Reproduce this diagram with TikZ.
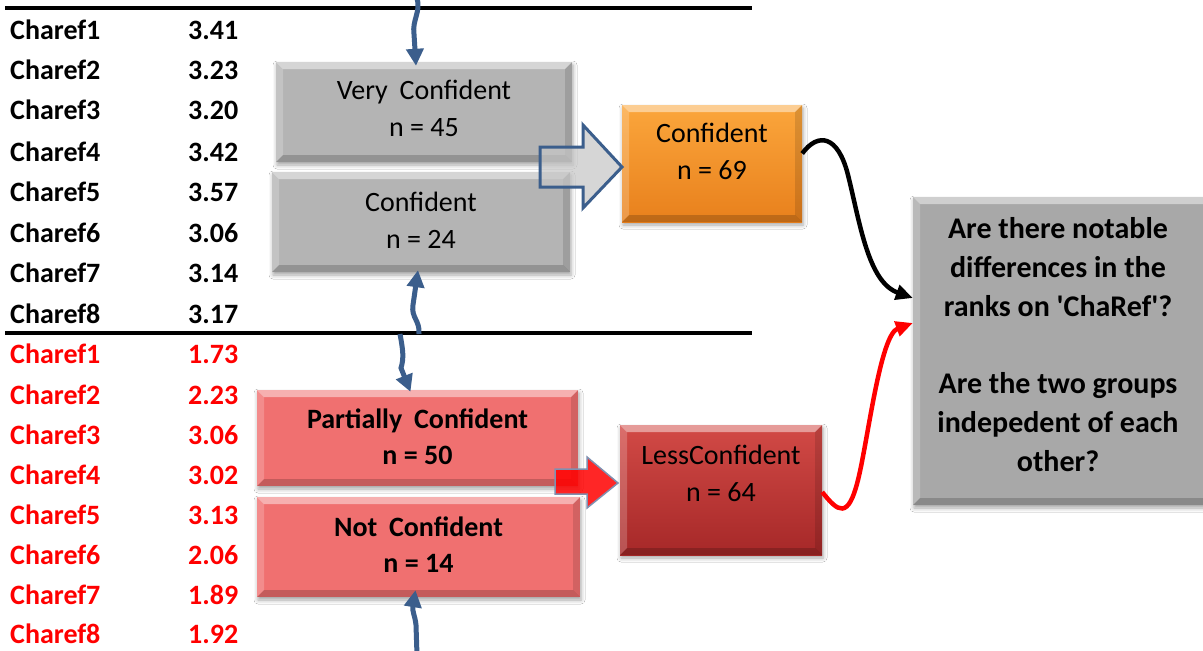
\documentclass[tikz,border=0pt]{standalone}
\usepackage{fontspec}
\setmainfont{Carlito}
\usetikzlibrary{arrows.meta,shadows.blur}

\definecolor{flowblue}{RGB}{59,94,140}
\definecolor{boxgray}{RGB}{180,180,180}
\definecolor{qgray}{RGB}{168,168,168}
\definecolor{boxpink}{RGB}{240,112,112}
\definecolor{orangetop}{RGB}{251,166,60}
\definecolor{orangebot}{RGB}{232,128,28}
\definecolor{darkredtop}{RGB}{210,74,70}
\definecolor{darkredbot}{RGB}{166,40,40}
\definecolor{arrowedge}{RGB}{128,144,176}
\definecolor{lowred}{RGB}{255,0,0}

\newcommand\wsp{\hspace{0.42em}}

\tikzset{
  x=1pt, y=-1pt,
  bevel/.style={path picture={
    \fill[white,opacity=.45] (path picture bounding box.north west) -- (path picture bounding box.north east)
      -- ([xshift=-7pt,yshift=-7pt]path picture bounding box.north east)
      -- ([xshift=7pt,yshift=-7pt]path picture bounding box.north west) -- cycle;
    \fill[white,opacity=.2] (path picture bounding box.north west) -- (path picture bounding box.south west)
      -- ([xshift=7pt,yshift=7pt]path picture bounding box.south west)
      -- ([xshift=7pt,yshift=-7pt]path picture bounding box.north west) -- cycle;
    \fill[black,opacity=.12] (path picture bounding box.north east) -- (path picture bounding box.south east)
      -- ([xshift=-7pt,yshift=7pt]path picture bounding box.south east)
      -- ([xshift=-7pt,yshift=-7pt]path picture bounding box.north east) -- cycle;
    \fill[black,opacity=.18] (path picture bounding box.south west) -- (path picture bounding box.south east)
      -- ([xshift=-7pt,yshift=7pt]path picture bounding box.south east)
      -- ([xshift=7pt,yshift=7pt]path picture bounding box.south west) -- cycle;
  }},
  panel/.style={draw=none, inner sep=0pt, bevel,
    blur shadow={shadow xshift=1pt, shadow yshift=-3pt, shadow blur radius=4pt, shadow opacity=35}},
  graypanel/.style={panel, fill=boxgray},
  pinkpanel/.style={panel, fill=boxpink},
  orangepanel/.style={panel, top color=orangetop, bottom color=orangebot},
  redpanel/.style={panel, top color=darkredtop, bottom color=darkredbot},
  qpanel/.style={panel, fill=qgray},
  boxtext/.style={align=center, inner sep=0pt, font=\fontsize{28}{37}\selectfont},
  boldtext/.style={boxtext, font=\fontsize{28}{36}\selectfont\bfseries},
  qtext/.style={align=center, inner sep=0pt, font=\fontsize{30}{38.7}\selectfont\bfseries},
  rowlabel/.style={anchor=west, inner sep=0pt, font=\fontsize{28}{30}\selectfont\bfseries},
  flow/.style={draw=flowblue, line width=5pt, -{Triangle[length=17pt,width=17pt]}},
  link/.style={line width=4.5pt, -{Triangle[length=17pt,width=15pt]}},
  rulerline/.style={line width=3.5pt},
  bluearrow/.style={fill=gray!45, fill opacity=.7, draw=flowblue, line width=3pt, line join=miter},
  redarrow/.style={fill=red, fill opacity=.85, draw=arrowedge, line width=1.5pt, line join=miter},
}

\begin{document}
\begin{tikzpicture}
\useasboundingbox (0,0) rectangle (1203,651);
\fill[white] (0,0) rectangle (1203,651);

% section rules
\coordinate (rt1) at (5,8);   \coordinate (rt2) at (752,8);
\coordinate (rm1) at (5,333); \coordinate (rm2) at (752,333);
\draw[rulerline] (rt1) -- (rt2);
\draw[rulerline] (rm1) -- (rm2);

% confident group scores
\foreach \y/\v [count=\i] in {30/3.41,70/3.23,110/3.20,152/3.42,192/3.57,233/3.06,273/3.14,314/3.17} {
  \node[rowlabel] (hl\i) at (10,\y) {Charef\i};
  \node[rowlabel] (hv\i) at (188,\y) {\v};
}
% less confident group scores
\foreach \y/\v [count=\i] in {354/1.73,395/2.23,435/3.06,475/3.02,515/3.13,555/2.06,595/1.89,634/1.92} {
  \node[rowlabel,text=lowred] (ll\i) at (10,\y) {Charef\i};
  \node[rowlabel,text=lowred] (lv\i) at (188,\y) {\v};
}

% panels
\node[graypanel, minimum width=296, minimum height=100] (vc) at (424,112) {};
\node[graypanel, minimum width=298, minimum height=100] (c2) at (421,222) {};
\node[pinkpanel, minimum width=321, minimum height=96] (pc) at (417.5,438) {};
\node[pinkpanel, minimum width=323, minimum height=100] (nc) at (418.5,547) {};
\node[orangepanel, minimum width=180, minimum height=117] (cf) at (712,163.5) {};
\node[redpanel, minimum width=202, minimum height=130] (lc) at (721,490) {};
\node[qpanel, minimum width=297, minimum height=308] (q) at (1061.5,351) {};

% panel texts
\node[boxtext] (vct) at ([yshift=3.5pt]vc.center) {Very\wsp Confident\\n = 45};
\node[boxtext] (c2t) at ([yshift=1.5pt]c2.center) {Confident\\n = 24};
\node[boldtext] (pct) at ([yshift=1pt]pc.center) {Partially\wsp Confident\\n = 50};
\node[boldtext] (nct) at ([yshift=2pt]nc.center) {Not\wsp Confident\\n = 14};
\node[boxtext] (cft) at ([yshift=12pt]cf.center) {Confident\\n = 69};
\node[boxtext] (lct) at ([yshift=16.5pt]lc.center) {LessConfident\\n = 64};
\node[qtext] (qt) at ([xshift=-3.5pt,yshift=6.5pt]q.center)
  {Are there notable\\differences in the\\ranks on \textquotesingle ChaRef\textquotesingle ?\\[38.7pt]Are the two groups\\indepedent of each\\other?};

% merging block arrows
\draw[bluearrow] (540,147) -- (583,147) -- (583,125) -- (622,167) -- (583,208) -- (583,187) -- (540,187) -- cycle;
\draw[redarrow] (555,469) -- (587,469) -- (587,457) -- (618,483) -- (587,508) -- (587,494) -- (555,494) -- cycle;

% wavy feeders
\coordinate (src1) at (417,-2);
\coordinate (src2) at (419,334);
\coordinate (src3) at (400,334);
\coordinate (src4) at (417,655);
\draw[flow] (src1) .. controls (421,12) and (412,20) .. (414,34) -- ([xshift=-8pt,yshift=-4pt]vc.north);
\draw[flow] (src2) .. controls (420,320) and (411,318) .. (413,305) -- ([xshift=-3pt,yshift=2pt]c2.south);
\draw[flow] (src3) .. controls (403,350) and (404,358) .. (401,368) -- ([xshift=-7pt,yshift=-2pt]pc.north);
\draw[flow] (src4) -- (416,625) .. controls (415,615) and (412,612) .. ([xshift=-3pt,yshift=7pt]nc.south);

% links to the question
\draw[link, black] ([yshift=10pt]cf.east) .. controls (818,132) and (838,135) .. (848,175)
  .. controls (860,223) and (868,282) .. ([yshift=53pt]q.west);
\draw[link, red] ([yshift=-2pt]lc.east) .. controls (838,512) and (848,520) .. (858,480)
  .. controls (868,440) and (880,335) .. ([yshift=28pt]q.west);
\end{tikzpicture}
\end{document}
